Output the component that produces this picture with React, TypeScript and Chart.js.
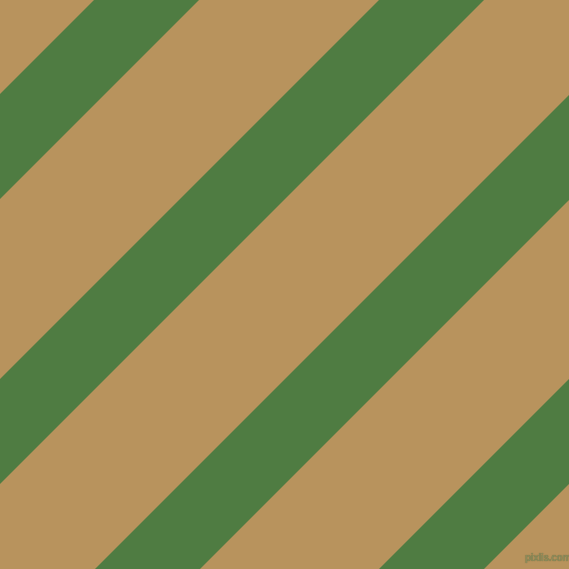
import React, { useEffect, useRef } from 'react';
import { Chart, registerables } from 'chart.js';

Chart.register(...registerables);

// stripe positions, measured as x + y where the stripe's upper edge meets the axes
const stripeStarts = [94, 379, 664, 948];
const stripeWidth = 105;
const canvasSize = 569;

const TAN = '#b8935d';
const GREEN = '#4f7c42';

export default function App() {
  const canvasRef = useRef<HTMLCanvasElement>(null);
  const chartRef = useRef<Chart | null>(null);

  useEffect(() => {
    if (!canvasRef.current) return;
    if (chartRef.current) chartRef.current.destroy();

    const ext = canvasSize + 50;
    const datasets = stripeStarts.map((s) => {
      const c = s + stripeWidth / 2;
      return {
        data: [
          { x: -ext, y: c + ext },
          { x: c + ext, y: -ext },
        ],
        showLine: true,
        borderColor: GREEN,
        borderWidth: stripeWidth / Math.SQRT2,
        borderCapStyle: 'butt' as const,
        pointRadius: 0,
        pointHoverRadius: 0,
        tension: 0,
        fill: false,
      };
    });

    chartRef.current = new Chart(canvasRef.current, {
      type: 'scatter',
      data: { datasets },
      options: {
        animation: false,
        responsive: true,
        maintainAspectRatio: false,
        layout: { padding: 0 },
        events: [],
        plugins: { legend: { display: false }, tooltip: { enabled: false } },
        scales: {
          x: { type: 'linear', min: 0, max: canvasSize, display: false },
          y: { type: 'linear', min: 0, max: canvasSize, reverse: true, display: false },
        },
      },
    });

    return () => chartRef.current?.destroy();
  }, []);

  return (
    <div
      style={{
        position: 'fixed',
        left: 0,
        top: 0,
        width: canvasSize,
        height: canvasSize,
        background: TAN,
        overflow: 'hidden',
      }}
    >
      <canvas ref={canvasRef}></canvas>
      <span
        style={{
          position: 'absolute',
          left: 525,
          top: 552,
          font: 'bold 10px "Liberation Sans", sans-serif',
          letterSpacing: '-0.3px',
          color: '#8c8a5a',
          textShadow: '0 0 1px #5e6a3e',
        }}
      >
        pixlis.com
      </span>
    </div>
  );
}
